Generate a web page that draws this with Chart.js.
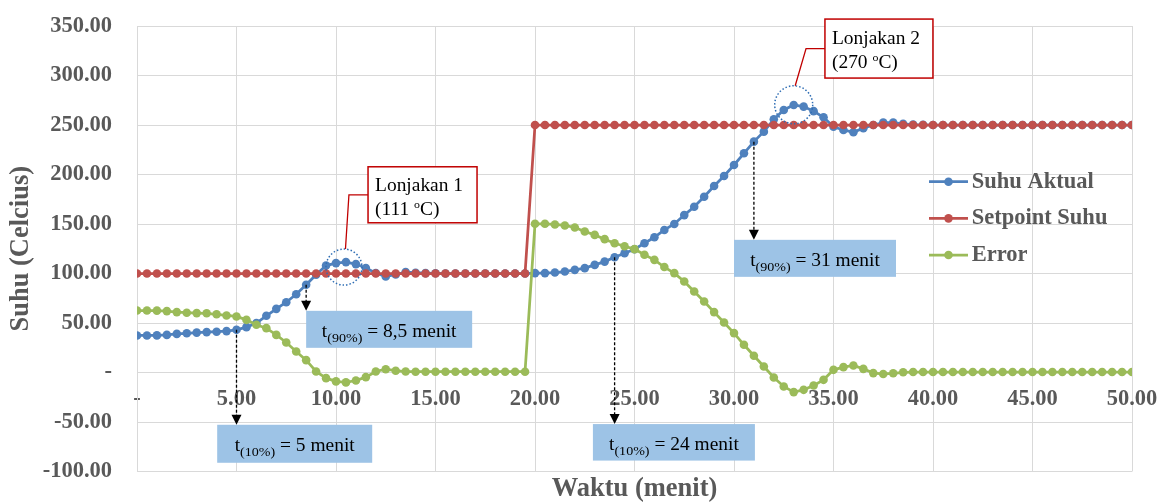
<!DOCTYPE html>
<html>
<head>
<meta charset="utf-8">
<script src="https://cdn.jsdelivr.net/npm/chart.js@4.4.1/dist/chart.umd.min.js"></script>
<style>
  html, body { margin: 0; padding: 0; background: #fff; }
  #wrap { width: 1165px; height: 504px; }
</style>
</head>
<body>
<div id="wrap"><canvas id="chart" width="1165" height="504"></canvas></div>
<script>
// waktu (menit), satu titik tiap 0,5 menit
const waktu = [
  0, 0.5, 1, 1.5, 2, 2.5, 3, 3.5, 4, 4.5,
  5, 5.5, 6, 6.5, 7, 7.5, 8, 8.5, 9, 9.5,
  10, 10.5, 11, 11.5, 12, 12.5, 13, 13.5, 14, 14.5,
  15, 15.5, 16, 16.5, 17, 17.5, 18, 18.5, 19, 19.5,
  20, 20.5, 21, 21.5, 22, 22.5, 23, 23.5, 24, 24.5,
  25, 25.5, 26, 26.5, 27, 27.5, 28, 28.5, 29, 29.5,
  30, 30.5, 31, 31.5, 32, 32.5, 33, 33.5, 34, 34.5,
  35, 35.5, 36, 36.5, 37, 37.5, 38, 38.5, 39, 39.5,
  40, 40.5, 41, 41.5, 42, 42.5, 43, 43.5, 44, 44.5,
  45, 45.5, 46, 46.5, 47, 47.5, 48, 48.5, 49, 49.5,
  50,
]

const suhuAktual = [
  37.4, 37.4, 37.5, 38.0, 39.0, 39.6, 40.3, 40.8, 41.2, 41.8,
  43.1, 45.8, 49.9, 57.3, 64.3, 71.0, 79.0, 88.6, 98.7, 108.0,
  110.5, 111.5, 109.5, 105.5, 100.5, 97.0, 99.0, 101.5, 100.8, 100.4,
  100.2, 100.0, 100.0, 100.0, 100.0, 100.0, 100.0, 100.0, 100.0, 100.0,
  100.4, 100.4, 101.0, 102.0, 103.7, 105.4, 108.7, 112.0, 116.4, 120.4,
  124.5, 130.5, 136.6, 144.0, 150.0, 159.0, 167.5, 177.6, 188.4, 198.5,
  209.6, 221.4, 233.2, 243.3, 255.7, 265.2, 270.2, 268.6, 264.0, 257.8,
  248.2, 245.0, 242.7, 246.8, 250.0, 252.5, 252.5, 251.2, 250.5, 250.2,
  250.0, 250.0, 250.0, 250.0, 250.0, 250.0, 250.0, 250.0, 250.0, 250.0,
  250.0, 250.0, 250.0, 250.0, 250.0, 250.0, 250.0, 250.0, 250.0, 250.0,
  250.0,
]

const setpointSuhu = [
  100, 100, 100, 100, 100, 100, 100, 100, 100, 100,
  100, 100, 100, 100, 100, 100, 100, 100, 100, 100,
  100, 100, 100, 100, 100, 100, 100, 100, 100, 100,
  100, 100, 100, 100, 100, 100, 100, 100, 100, 100,
  250, 250, 250, 250, 250, 250, 250, 250, 250, 250,
  250, 250, 250, 250, 250, 250, 250, 250, 250, 250,
  250, 250, 250, 250, 250, 250, 250, 250, 250, 250,
  250, 250, 250, 250, 250, 250, 250, 250, 250, 250,
  250, 250, 250, 250, 250, 250, 250, 250, 250, 250,
  250, 250, 250, 250, 250, 250, 250, 250, 250, 250,
  250,
]

const error = [
  62.6, 62.6, 62.5, 62.0, 61.0, 60.4, 60.0, 59.8, 58.8, 57.6,
  56.6, 53.2, 48.2, 44.8, 38.0, 30.3, 21.2, 12.5, 1.0, -5.7,
  -9.0, -10.0, -8.1, -4.7, 1.0, 3.3, 1.8, 1.0, 0.8, 0.8,
  0.8, 0.8, 0.8, 0.8, 0.8, 0.8, 0.8, 0.8, 0.8, 0.8,
  150.2, 150.2, 149.5, 148.5, 146.5, 142.4, 139.0, 134.7, 130.5, 127.5,
  124.6, 118.9, 113.8, 106.5, 100.4, 91.9, 81.8, 71.7, 61.0, 50.5,
  39.8, 28.0, 16.9, 6.1, -5.0, -14.1, -19.8, -17.5, -13.1, -7.4,
  2.7, 5.4, 7.1, 3.7, -0.6, -1.5, -0.8, 0.2, 0.5, 0.5,
  0.5, 0.5, 0.5, 0.5, 0.5, 0.5, 0.5, 0.5, 0.5, 0.5,
  0.5, 0.5, 0.5, 0.5, 0.5, 0.5, 0.5, 0.5, 0.5, 0.5,
  0.5,
]

const namaSeri = ["Suhu Aktual", "Setpoint Suhu", "Error"]

const biru = "#4F81BD"
const merah = "#C0504D"
const hijau = "#9BBB59"
const abu = "#595959"
const garis = "#D9D9D9"
const serif = '"Liberation Serif", "Times New Roman", serif'

const toPoints = (ys) => waktu.map((x, i) => ({ x, y: ys[i] }))
const labelAngka = (v) => (v === 0 ? "-" : v.toFixed(2))

// kotak biru t(10%) / t(90%): panah dari titik suhu aktual ke kotak
const kotakWaktu = [
  { t: 8.5, sub: "(90%)", teks: " = 8,5 menit", kiri: 8.5, atas: 62.3, w: 166, h: 37 },
  { t: 31, sub: "(90%)", teks: " = 31 menit", kiri: 30.0, atas: 134, w: 162, h: 37 },
  { t: 5, sub: "(10%)", teks: " = 5 menit", kiri: 4.03, atas: -52.8, w: 155, h: 38 },
  { t: 24, sub: "(10%)", teks: " = 24 menit", kiri: 22.91, atas: -52.1, w: 162, h: 36.5 },
]

// kotak merah lonjakan
const lonjakan = [
  { judul: "Lonjakan 1", nilai: "(111 ", cx: 10.4, cy: 106.5, r: 18, siku: 10.65, kiri: 11.61, atas: 207.8, w: 109, h: 56 },
  { judul: "Lonjakan 2", nilai: "(270 ", cx: 33.0, cy: 270.4, r: 19, siku: 33.62, kiri: 34.57, atas: 357, w: 108, h: 59 },
]

function tulis(c, bagian, x, y, skala) {
  c.save()
  c.translate(x, y)
  c.scale(skala, 1)
  let px = 0
  bagian.forEach(([t, size, dy]) => {
    c.font = `${size}px ${serif}`
    c.fillText(t, px, dy || 0)
    px += c.measureText(t).width
  })
  c.restore()
}

function lebarTeks(c, bagian) {
  let w = 0
  bagian.forEach(([t, size]) => {
    c.font = `${size}px ${serif}`
    w += c.measureText(t).width
  })
  return w
}

const catatan = {
  id: "catatan",
  afterDraw(chart) {
    const c = chart.ctx
    const sx = chart.scales.x
    const sy = chart.scales.y
    const px = (v) => sx.getPixelForValue(v)
    const py = (v) => sy.getPixelForValue(v)
    const k = 1.08

    c.save()
    c.textBaseline = "alphabetic"
    c.textAlign = "left"

    // panah putus-putus + kotak biru
    kotakWaktu.forEach((b) => {
      const i = waktu.indexOf(b.t)
      const x = px(b.t)
      const y0 = py(suhuAktual[i])
      const top = py(b.atas)
      c.strokeStyle = "#000"
      c.lineWidth = 1.3
      c.setLineDash([3, 2])
      c.beginPath()
      c.moveTo(x, y0)
      c.lineTo(x, top - 9)
      c.stroke()
      c.setLineDash([])
      c.fillStyle = "#000"
      c.beginPath()
      c.moveTo(x - 5, top - 10)
      c.lineTo(x + 5, top - 10)
      c.lineTo(x, top)
      c.closePath()
      c.fill()

      const left = px(b.kiri)
      c.fillStyle = "#9DC3E6"
      c.fillRect(left, top, b.w, b.h)
      const bagian = [["t", 18], [b.sub, 13, 5], [b.teks, 18]]
      const w = lebarTeks(c, bagian) * k
      c.fillStyle = "#000"
      tulis(c, bagian, left + (b.w - w) / 2, top + 26, k)
    })

    // lingkaran titik-titik + kotak merah lonjakan
    lonjakan.forEach((l) => {
      const cx = px(l.cx)
      const cy = py(l.cy)
      c.strokeStyle = "#2E6DB4"
      c.lineWidth = 1.5
      c.setLineDash([1.5, 2])
      c.beginPath()
      c.arc(cx, cy, l.r, 0, Math.PI * 2)
      c.stroke()
      c.setLineDash([])

      const left = px(l.kiri)
      const top = py(l.atas)
      const mid = top + l.h / 2
      c.strokeStyle = "#C00000"
      c.lineWidth = 1.3
      c.beginPath()
      c.moveTo(cx + 1.5, cy - l.r)
      c.lineTo(px(l.siku), mid)
      c.lineTo(left, mid)
      c.stroke()

      c.fillStyle = "#fff"
      c.fillRect(left, top, l.w, l.h)
      c.lineWidth = 1.5
      c.strokeRect(left, top, l.w, l.h)
      c.fillStyle = "#000"
      tulis(c, [[l.judul, 18]], left + 7, top + 24.5, k)
      tulis(c, [[l.nilai, 18], ["o", 11, -7], ["C)", 18]], left + 7, top + 48.5, k)
    })

    // legenda di dalam area plot
    const area = chart.chartArea
    chart.data.datasets.forEach((ds, i) => {
      const y = area.top + 155.7 + i * 36.65
      const x0 = area.right - 203
      c.strokeStyle = ds.borderColor
      c.lineWidth = 2.75
      c.beginPath()
      c.moveTo(x0, y)
      c.lineTo(x0 + 39, y)
      c.stroke()
      c.fillStyle = ds.borderColor
      c.beginPath()
      c.arc(x0 + 19.5, y, 4.3, 0, Math.PI * 2)
      c.fill()
      c.fillStyle = abu
      c.font = `bold 22.5px ${serif}`
      c.textBaseline = "middle"
      c.fillText(ds.label, x0 + 42.7, y)
      c.textBaseline = "alphabetic"
    })
    c.restore()
  },
}

const ctx = document.getElementById("chart").getContext("2d")

new Chart(ctx, {
  type: "line",
  data: {
    datasets: [
      { label: namaSeri[0], data: toPoints(suhuAktual), borderColor: biru, backgroundColor: biru, order: 3 },
      { label: namaSeri[1], data: toPoints(setpointSuhu), borderColor: merah, backgroundColor: merah, order: 2 },
      { label: namaSeri[2], data: toPoints(error), borderColor: hijau, backgroundColor: hijau, order: 1 },
    ],
  },
  options: {
    responsive: false,
    animation: false,
    devicePixelRatio: 1,
    events: [],
    layout: { padding: { left: 0, right: 33, top: 26, bottom: 0 } },
    elements: {
      line: { borderWidth: 2.75, tension: 0 },
      point: { radius: 4.3, borderWidth: 0, hoverRadius: 4.3 },
    },
    scales: {
      x: {
        type: "linear",
        min: 0,
        max: 50,
        position: { y: 0 },
        afterFit: (s) => {
          // label sumbu x ada di garis nol, jangan ambil ruang layout
          s.height = 0
          s.paddingLeft = 0
          s.paddingRight = 0
        },
        grid: { color: garis, drawTicks: false },
        border: { display: false },
        ticks: {
          stepSize: 5,
          padding: 13,
          autoSkip: false,
          maxRotation: 0,
          color: abu,
          font: { family: serif, size: 22.5, weight: "bold" },
          callback: labelAngka,
        },
      },
      y: {
        min: -100,
        max: 350,
        afterFit: (s) => {
          s.width = 137
          s.paddingTop = 0
          s.paddingBottom = 0
        },
        grid: { color: garis, drawTicks: false },
        border: { color: garis },
        ticks: {
          stepSize: 50,
          padding: 25,
          color: abu,
          font: { family: serif, size: 22.5, weight: "bold" },
          callback: labelAngka,
        },
        title: {
          display: true,
          text: "Suhu (Celcius)",
          color: abu,
          font: { family: serif, size: 26.5, weight: "bold", lineHeight: 1 },
          padding: { top: 8, bottom: 0 },
        },
      },
    },
    plugins: {
      legend: { display: false },
      tooltip: { enabled: false },
      title: {
        display: true,
        position: "bottom",
        fullSize: false,
        text: "Waktu (menit)",
        color: abu,
        font: { family: serif, size: 26.5, weight: "bold", lineHeight: 1 },
        padding: { top: 4, bottom: 2 },
      },
    },
  },
  plugins: [catatan],
})
</script>
</body>
</html>
